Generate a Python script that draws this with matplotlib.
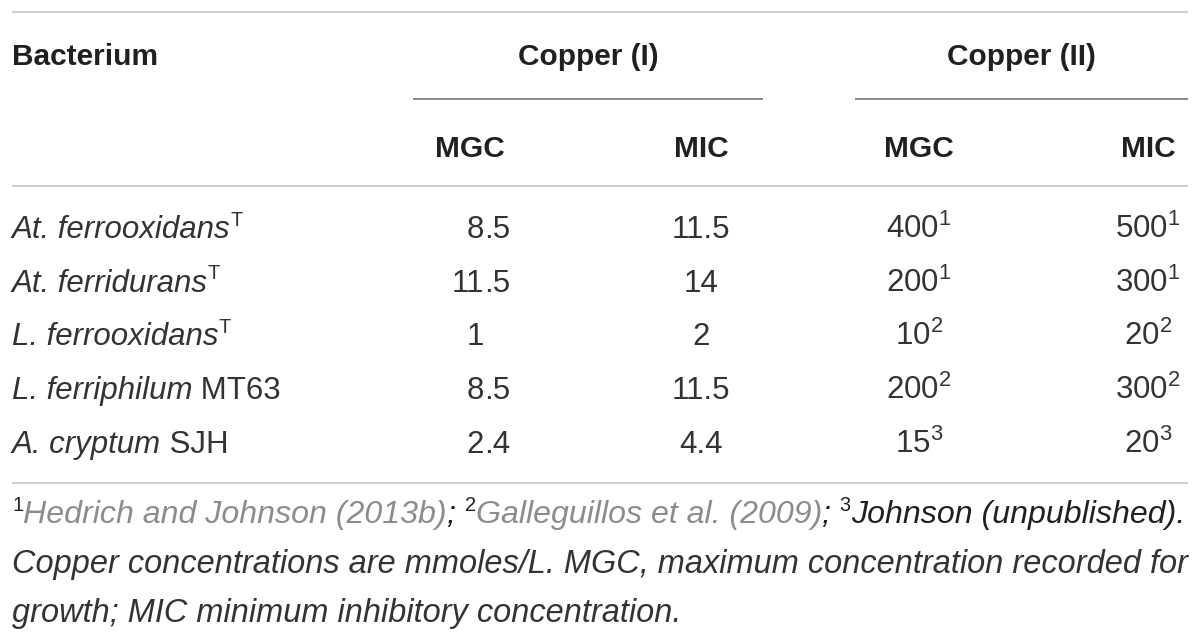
import matplotlib
matplotlib.use("Agg")
import matplotlib.pyplot as plt

plt.rcParams['font.family'] = ['Liberation Sans', 'DejaVu Sans']
plt.rcParams['mathtext.fontset'] = 'custom'
plt.rcParams['mathtext.rm'] = 'Liberation Sans'
plt.rcParams['mathtext.it'] = 'Liberation Sans:italic'
plt.rcParams['mathtext.bf'] = 'Liberation Sans:bold'

# ---------------- data ----------------
col_header = "Bacterium"
group_labels = ["Copper (I)", "Copper (II)"]
sub_labels = ["MGC", "MIC", "MGC", "MIC"]
species = ["At. ferrooxidans", "At. ferridurans", "L. ferrooxidans",
           "L. ferriphilum", "A. cryptum"]
strain = ["", "", "", "MT63", "SJH"]
type_strain = [True, True, True, False, False]
cu1_mgc = [8.5, 11.5, 1, 8.5, 2.4]
cu1_mic = [11.5, 14, 2, 11.5, 4.4]
cu2_mgc = [400, 200, 10, 200, 15]
cu2_mic = [500, 300, 20, 300, 20]
cu2_ref = [1, 1, 2, 2, 3]
foot_refs = ["Hedrich and Johnson (2013b)", "Galleguillos et al. (2009)",
             "Johnson (unpublished)."]
foot_text2 = "Copper concentrations are mmoles/L. MGC, maximum concentration recorded for"
foot_text3 = "growth; MIC minimum inhibitory concentration."

# ---------------- layout ----------------
W, H = 1200, 637
fig = plt.figure(figsize=(W / 100, H / 100), dpi=100)
ax = fig.add_axes([0, 0, 1, 1])
ax.set_xlim(0, W)
ax.set_ylim(H, 0)
ax.axis('off')
renderer = fig.canvas.get_renderer()

DARK = '#231f20'
BODY = '#333333'
GRAY = '#8c8c8c'
RULE = '#cfcfcf'
SUBRULE = '#6a6a6a'
PX = 100 / 72.0

hdr_fs = 21.5
body_fs = 22.5

left, right = 12, 1188
# rules
for yy in (12, 186, 483):
    ax.plot([left, right], [yy, yy], color=RULE, lw=1.5, solid_capstyle='butt')
ax.plot([413, 763], [99, 99], color=SUBRULE, lw=1.1, solid_capstyle='butt')
ax.plot([855, right], [99, 99], color=SUBRULE, lw=1.1, solid_capstyle='butt')


def runs(x, y, parts):
    """parts: list of (text, kwargs, raise_px). Draw left to right."""
    arts = []
    for txt, kw, rise in parts:
        t = ax.text(x, y - rise, txt, ha='left', va='baseline', **kw)
        arts.append(t)
        x = t.get_window_extent(renderer).x1
    return arts, x


# header
ax.text(left, 65, col_header, fontsize=hdr_fs, fontweight='bold', color=DARK,
        ha='left', va='baseline')
for lab, cx in zip(group_labels, [588, 1021]):
    ax.text(cx, 65, lab, fontsize=hdr_fs, fontweight='bold', color=DARK,
            ha='center', va='baseline')
col_x = [470, 701, 919, 1148]
for lab, cx in zip(sub_labels, col_x):
    ax.text(cx, 157, lab, fontsize=hdr_fs, fontweight='bold', color=DARK,
            ha='center', va='baseline')

# body rows
row0, row_step = 238, 53.7
dec_x = 484
sup_fs = body_fs * 0.64
for i in range(len(species)):
    y = row0 + i * row_step
    parts = [(species[i], dict(fontsize=body_fs, style='italic', color=BODY), 0)]
    if type_strain[i]:
        parts.append(("T", dict(fontsize=sup_fs, color=BODY), body_fs * PX * 0.40))
    else:
        parts.append((" " + strain[i], dict(fontsize=body_fs, color=BODY), 0))
    runs(left, y, parts)
    # Copper (I) MGC, decimal aligned
    v = f"{cu1_mgc[i]:g}"
    ip, _, fp = v.partition('.')
    ax.text(dec_x, y, ip, fontsize=body_fs, color=BODY, ha='right', va='baseline')
    if fp:
        ax.text(dec_x, y, '.' + fp, fontsize=body_fs, color=BODY, ha='left', va='baseline')
    ax.text(col_x[1], y, f"{cu1_mic[i]:g}", fontsize=body_fs, color=BODY,
            ha='center', va='baseline')
    ax.text(col_x[2], y, f"{cu2_mgc[i]}" + r"$^{" + str(cu2_ref[i]) + "}$",
            fontsize=body_fs, color=BODY, ha='center', va='baseline')
    ax.text(col_x[3], y, f"{cu2_mic[i]}" + r"$^{" + str(cu2_ref[i]) + "}$",
            fontsize=body_fs, color=BODY, ha='center', va='baseline')

# footnote: fit line 2 to table width
probe = ax.text(left, 573, foot_text2, fontsize=20, style='italic')
w = probe.get_window_extent(renderer).width
probe.remove()
foot_fs = 20 * (right - 3 - left) / w


def foot_line1(fs):
    it = lambda c: dict(fontsize=fs, style='italic', color=c)
    sp = dict(fontsize=fs * 0.62, color=DARK)
    rise = fs * PX * 0.36
    return runs(left, 523, [
        ("1", sp, rise), (foot_refs[0], it(GRAY), 0), (";", it(DARK), 0),
        (" ", it(DARK), 0), ("2", sp, rise), (foot_refs[1], it(GRAY), 0),
        (";", it(DARK), 0), (" ", it(DARK), 0), ("3", sp, rise),
        (foot_refs[2], it(DARK), 0),
    ])


arts, xend = foot_line1(foot_fs)
if xend > right - 3:
    for a in arts:
        a.remove()
    arts, xend = foot_line1(foot_fs * (right - 3 - left) / (xend - left))

ax.text(left, 573, foot_text2, fontsize=foot_fs, style='italic', color=BODY,
        ha='left', va='baseline')
ax.text(left, 622, foot_text3, fontsize=foot_fs, style='italic', color=BODY,
        ha='left', va='baseline')

fig.savefig("out.png", dpi=100, facecolor='white')
